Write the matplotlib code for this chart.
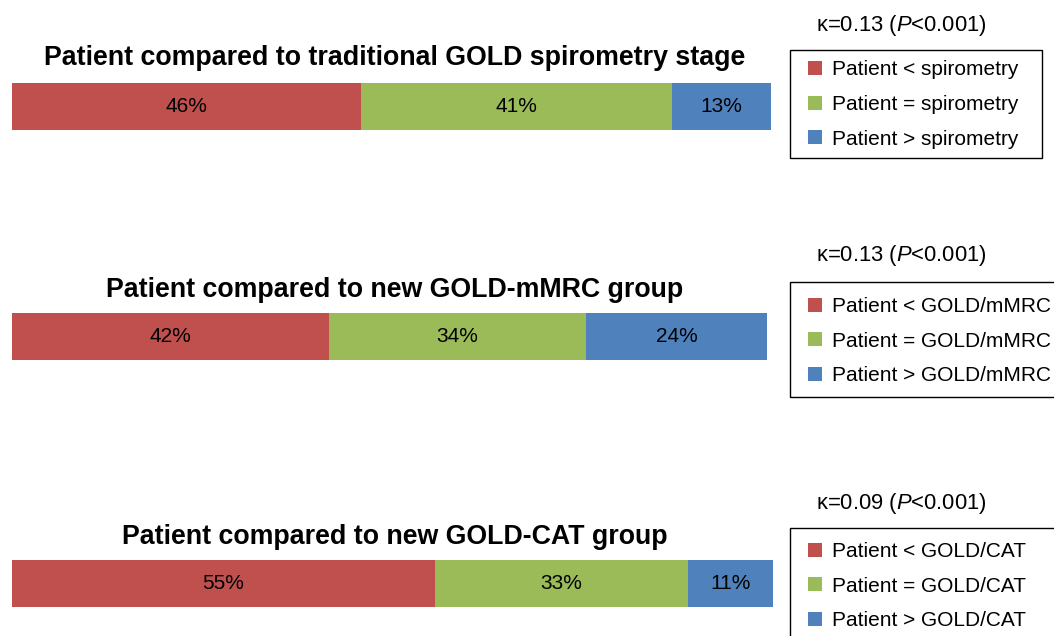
import matplotlib
matplotlib.use("Agg")
import matplotlib.pyplot as plt
from matplotlib.patches import Patch, Rectangle

plt.rcParams['font.family'] = ['Liberation Sans', 'DejaVu Sans']
plt.rcParams['mathtext.fontset'] = 'custom'
plt.rcParams['mathtext.rm'] = 'Liberation Sans'
plt.rcParams['mathtext.it'] = 'Liberation Sans:italic'

titles = ["Patient compared to traditional GOLD spirometry stage",
          "Patient compared to new GOLD-mMRC group",
          "Patient compared to new GOLD-CAT group"]
refs = ["spirometry", "GOLD/mMRC", "GOLD/CAT"]
kappas = ["0.13", "0.13", "0.09"]
p_vals = ["0.001", "0.001", "0.001"]
less = [46, 42, 55]
equal = [41, 34, 33]
greater = [13, 24, 11]

colors = ['#C0504D', '#9BBB59', '#4F81BD']

W, H = 1054, 636
fig = plt.figure(figsize=(W / 100, H / 100), dpi=100)

# pixel layout of each panel
bar_boxes = [(12, 83, 759, 47), (12, 313, 755, 47), (12, 560, 761, 47)]
title_y = [58, 290, 537]
kappa_y = [25, 255, 503]
legend_mid = [104.5, 341, 586]
frame_boxes = [(790, 50, 252, 108), (790, 282, 300, 115), (790, 528, 300, 140)]

for i in range(3):
    x0, y0, w, h = bar_boxes[i]
    ax = fig.add_axes([x0 / W, 1 - (y0 + h) / H, w / W, h / H])
    vals = [less[i], equal[i], greater[i]]
    left = 0
    for v, c in zip(vals, colors):
        ax.barh(0, v, left=left, height=1, color=c)
        ax.text(left + v / 2, 0, f"{v}%", ha='center', va='center', fontsize=15)
        left += v
    ax.set_xlim(0, sum(vals))
    ax.set_ylim(-0.5, 0.5)
    ax.axis('off')

    fig.text(395 / W, 1 - title_y[i] / H, titles[i], ha='center', va='center',
             fontsize=19.3, fontweight='bold')
    fig.text(816 / W, 1 - kappa_y[i] / H,
             "κ=" + kappas[i] + r" ($\mathit{P}$<" + p_vals[i] + ")",
             ha='left', va='center', fontsize=15.8)

    fx, fy, fw, fh = frame_boxes[i]
    fig.patches.append(Rectangle((fx / W, 1 - (fy + fh) / H), fw / W, fh / H,
                                 transform=fig.transFigure, fill=False,
                                 edgecolor='black', linewidth=1.0))

    handles = [Patch(facecolor=c, edgecolor='none') for c in colors]
    labels = [f"Patient {s} {refs[i]}" for s in ["<", "=", ">"]]
    fig.legend(handles, labels, loc='center left',
               bbox_to_anchor=(808 / W, 1 - legend_mid[i] / H),
               bbox_transform=fig.transFigure, borderaxespad=0, borderpad=0,
               fontsize=15, frameon=False,
               handlelength=0.65, handleheight=0.65, handletextpad=0.5,
               labelspacing=0.75)

fig.savefig("out.png", dpi=100)
